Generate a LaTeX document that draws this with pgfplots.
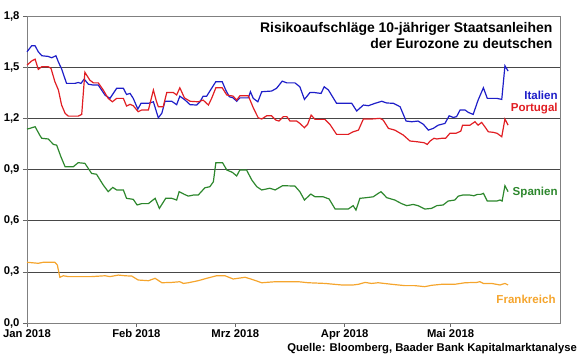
\documentclass[border=0pt]{standalone}
\usepackage{pgfplots}
\pgfplotsset{compat=1.18}
\usepackage{fontspec}
\setmainfont{Liberation Sans}
\definecolor{cIta}{RGB}{30,30,200}
\definecolor{cPor}{RGB}{225,30,35}
\definecolor{cSpa}{RGB}{45,135,45}
\definecolor{cFra}{RGB}{245,165,45}
\begin{document}
\begin{tikzpicture}
\path[use as bounding box] (-27bp,-35bp) rectangle (553bp,323bp);
\begin{axis}[
  at={(0,0)}, anchor=south west,
  scale only axis, width=533bp, height=307bp,
  xmin=0, xmax=151, ymin=0, ymax=1.8,
  xtick={0,31,59,90,120},
  xticklabels={Jan 2018, Feb 2018, Mrz 2018, Apr 2018, Mai 2018},
  ytick={0,0.3,0.6,0.9,1.2,1.5,1.8},
  ymajorgrids, grid style={black!72, line width=0.6pt},
  axis line style={black!50, line width=0.7pt},
  tick align=outside, major tick length=4bp,
  tick style={black!60, line width=0.6pt},
  xtick pos=bottom, ytick pos=left,
  /pgf/number format/assume math mode=true,
  yticklabel style={/pgf/number format/.cd, use comma, fixed, fixed zerofill, precision=1},
  ticklabel style={font=\bfseries\fontsize{11.3}{13}\selectfont},
  xticklabel style={yshift=1bp},
  clip=false,
  every axis plot/.append style={line width=1.2pt, mark=none},
]
% Italien
\addplot[cIta] coordinates {
(0,1.59)(1.3,1.625)(2.3,1.625)(3.2,1.59)(4.2,1.567)(6.0,1.563)(7.0,1.555)(8.2,1.567)(8.9,1.53)(9.8,1.49)
(11.2,1.405)(13.6,1.405)(14.5,1.41)(15.3,1.405)(16.2,1.43)(17.4,1.40)(18.8,1.395)(20.2,1.395)(22.1,1.336)(23.5,1.317)
(25.4,1.376)(27.3,1.376)(28.2,1.34)(29.2,1.346)(30.1,1.317)(31.4,1.254)(32.3,1.288)(34.4,1.288)(35.8,1.297)(37.2,1.203)
(38.2,1.23)(39.1,1.30)(41.0,1.30)(42.4,1.28)(43.3,1.33)(44.8,1.307)(46.2,1.28)(48.1,1.278)(49.0,1.297)(49.9,1.33)
(50.9,1.33)(52.3,1.376)(53.5,1.415)(55.3,1.415)(56.3,1.366)(57.3,1.327)(58.4,1.32)(59.4,1.30)(60.3,1.32)(62.7,1.32)
(63.3,1.356)(64.1,1.317)(65.4,1.297)(66.5,1.356)(69.3,1.36)(70.7,1.376)(72.3,1.418)(73.6,1.408)(75.9,1.408)(77.3,1.385)
(78.6,1.311)(80.2,1.352)(81.1,1.352)(83.3,1.346)(84.2,1.385)(85.4,1.366)(87.7,1.288)(92.0,1.288)(93.4,1.243)(95.3,1.278)
(96.7,1.274)(98.6,1.288)(100.5,1.30)(101.9,1.29)(103.8,1.288)(105.7,1.268)(107.4,1.184)(109.0,1.18)(110.8,1.184)(112.3,1.165)
(113.7,1.131)(115.1,1.141)(116.5,1.16)(118.4,1.17)(119.6,1.215)(120.8,1.205)(121.7,1.21)(122.7,1.249)(124.1,1.249)(125.0,1.235)
(126.4,1.223)(127.8,1.307)(129.3,1.379)(130.4,1.317)(133.1,1.317)(134.5,1.311)(135.4,1.508)(136.3,1.477)
};
% Portugal
\addplot[cPor] coordinates {
(0,1.512)(1.3,1.536)(2.3,1.547)(3.2,1.487)(4.2,1.503)(6.0,1.503)(6.8,1.493)(7.9,1.415)(8.9,1.366)(9.8,1.278)
(10.8,1.229)(11.7,1.213)(14.5,1.213)(15.5,1.223)(16.4,1.47)(17.8,1.424)(18.8,1.408)(20.2,1.408)(21.6,1.366)(23.0,1.317)
(24.2,1.297)(25.4,1.317)(27.3,1.317)(28.2,1.272)(29.2,1.282)(30.1,1.274)(31.5,1.239)(32.5,1.249)(34.4,1.249)(35.8,1.366)
(36.7,1.297)(37.2,1.268)(38.6,1.268)(39.6,1.352)(41.4,1.352)(42.4,1.337)(43.3,1.379)(44.6,1.32)(46.2,1.30)(48.5,1.297)
(49.9,1.307)(51.4,1.278)(52.3,1.317)(53.5,1.379)(55.3,1.379)(56.6,1.337)(58.4,1.33)(59.4,1.307)(60.3,1.332)(62.7,1.332)
(64.1,1.262)(65.5,1.203)(66.5,1.196)(67.9,1.215)(69.3,1.215)(70.5,1.19)(71.4,1.184)(72.6,1.21)(73.6,1.21)(74.5,1.184)
(76.4,1.184)(77.3,1.17)(78.6,1.145)(79.5,1.165)(80.5,1.219)(81.6,1.194)(84.4,1.194)(85.8,1.165)(87.7,1.106)(91.0,1.106)
(92.4,1.121)(93.9,1.131)(95.3,1.196)(97.6,1.196)(100.0,1.20)(100.9,1.19)(102.4,1.141)(104.2,1.131)(106.6,1.102)(108.5,1.067)
(110.4,1.063)(112.5,1.057)(113.4,1.047)(114.2,1.067)(115.3,1.083)(116.1,1.079)(117.5,1.083)(118.6,1.083)(119.8,1.112)(121.5,1.112)
(122.9,1.125)(123.4,1.16)(125.5,1.16)(126.9,1.18)(127.8,1.16)(128.8,1.176)(129.7,1.151)(130.7,1.121)(132.1,1.118)(133.2,1.112)
(134.5,1.092)(135.4,1.196)(136.3,1.16)
};
% Spanien
\addplot[cSpa] coordinates {
(0,1.137)(0.8,1.141)(2.3,1.151)(3.7,1.098)(4.2,1.083)(6.0,1.079)(7.5,1.047)(8.4,1.043)(9.6,0.975)(10.8,0.916)
(13.1,0.916)(14.5,0.94)(16.4,0.936)(18.3,0.877)(19.7,0.872)(21.6,0.809)(23.0,0.77)(24.3,0.795)(25.4,0.78)(27.3,0.78)
(28.2,0.731)(30.1,0.725)(31.2,0.692)(32.5,0.70)(34.4,0.70)(36.3,0.731)(37.5,0.672)(39.3,0.731)(41.0,0.731)(42.4,0.721)
(43.1,0.77)(44.6,0.754)(45.7,0.744)(47.1,0.75)(48.5,0.75)(50.4,0.793)(51.8,0.799)(52.8,0.828)(53.5,0.94)(55.4,0.94)
(56.6,0.897)(58.2,0.883)(59.4,0.862)(60.3,0.897)(62.2,0.897)(63.7,0.838)(65.1,0.799)(66.5,0.78)(68.8,0.79)(70.3,0.78)
(72.4,0.805)(75.9,0.803)(77.3,0.77)(78.6,0.721)(80.4,0.756)(81.6,0.74)(83.9,0.74)(85.6,0.727)(87.3,0.668)(91.0,0.668)
(92.4,0.688)(93.2,0.662)(94.3,0.731)(96.2,0.735)(98.1,0.74)(99.5,0.76)(100.3,0.77)(101.9,0.735)(104.2,0.721)(106.1,0.70)
(107.6,0.688)(109.4,0.695)(110.8,0.688)(112.7,0.668)(114.6,0.672)(116.1,0.688)(117.9,0.692)(119.3,0.715)(121.2,0.721)(122.2,0.744)
(123.4,0.75)(125.5,0.75)(126.6,0.746)(127.6,0.754)(128.5,0.754)(129.3,0.76)(130.4,0.715)(133.1,0.715)(134.0,0.721)(134.6,0.715)
(135.4,0.805)(136.3,0.77)
};
% Frankreich
\addplot[cFra] coordinates {
(0,0.356)(3.2,0.35)(4.6,0.356)(7.9,0.356)(8.6,0.34)(9.3,0.268)(10.3,0.277)(11.7,0.272)(18.3,0.272)(22.1,0.277)
(23.5,0.272)(25.9,0.281)(27.8,0.277)(29.7,0.275)(31.5,0.252)(34.4,0.248)(36.3,0.262)(38.2,0.236)(41.0,0.238)(43.3,0.242)
(44.3,0.232)(45.7,0.236)(48.5,0.248)(50.9,0.262)(53.7,0.277)(56.1,0.277)(58.4,0.258)(61.8,0.268)(63.7,0.256)(66.5,0.236)
(70.3,0.242)(76.9,0.242)(79.7,0.236)(84.4,0.232)(89.1,0.223)(92.4,0.223)(93.9,0.227)(95.8,0.238)(97.6,0.232)(99.5,0.236)
(103.3,0.227)(107.1,0.219)(109.9,0.219)(112.7,0.213)(114.6,0.221)(117.5,0.227)(121.2,0.227)(124.1,0.236)(127.4,0.238)(128.3,0.242)
(129.3,0.232)(131.6,0.232)(134.0,0.223)(135.4,0.232)(136.3,0.223)
};
\node[anchor=base east, font=\bfseries\fontsize{14}{16}\selectfont, inner sep=0pt]
  at (axis cs:148.9,1.705) {Risikoaufschläge 10-jähriger Staatsanleihen};
\node[anchor=base east, font=\bfseries\fontsize{14}{16}\selectfont, inner sep=0pt]
  at (axis cs:148.9,1.612) {der Eurozone zu deutschen};
\node[anchor=east, text=cIta, font=\bfseries\fontsize{11.6}{13}\selectfont, inner sep=0pt] at (axis cs:150.4,1.336) {Italien};
\node[anchor=east, text=cPor, font=\bfseries\fontsize{11.6}{13}\selectfont, inner sep=0pt] at (axis cs:150.4,1.26) {Portugal};
\node[anchor=east, text=cSpa, font=\bfseries\fontsize{11.6}{13}\selectfont, inner sep=0pt] at (axis cs:150.4,0.768) {Spanien};
\node[anchor=east, text=cFra, font=\bfseries\fontsize{11.6}{13}\selectfont, inner sep=0pt] at (axis cs:149.8,0.141) {Frankreich};
\end{axis}
\node[anchor=east, font=\bfseries\fontsize{11.3}{13}\selectfont, inner sep=0pt] at (550bp,-26bp) {Quelle: Bloomberg, Baader Bank Kapitalmarktanalyse};
\end{tikzpicture}
\end{document}
